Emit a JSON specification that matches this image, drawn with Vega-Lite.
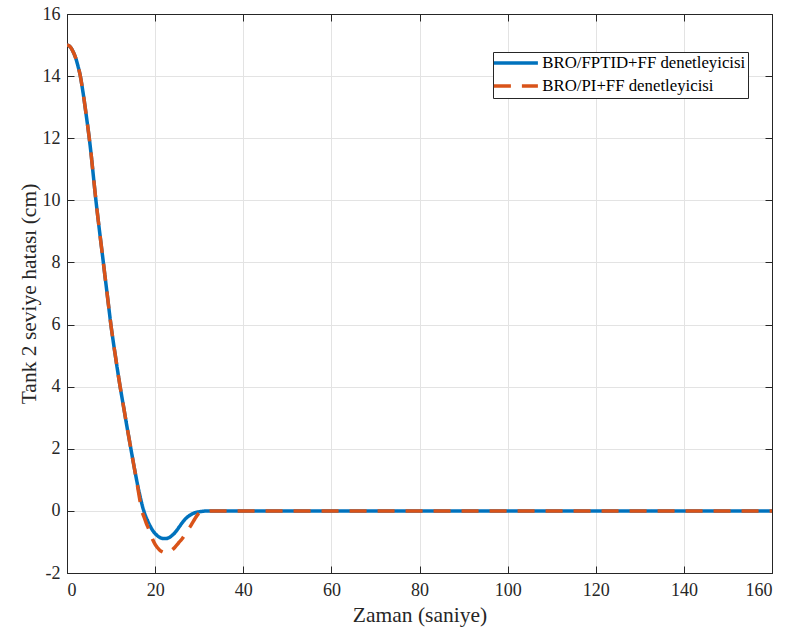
{
  "$schema": "https://vega.github.io/schema/vega-lite/v6.json",
  "width": 705,
  "height": 559,
  "autosize": "none",
  "padding": {"left": 67, "top": 14, "right": 20, "bottom": 60},
  "background": "white",
  "config": {
    "font": "Liberation Serif",
    "view": {"stroke": "#262626", "strokeWidth": 1},
    "axis": {
      "domainColor": "#262626",
      "tickColor": "#262626",
      "labelColor": "#262626",
      "titleColor": "#262626",
      "labelFont": "Liberation Serif",
      "titleFont": "Liberation Serif",
      "labelFontSize": 18,
      "labelFontWeight": "normal",
      "titleFontSize": 21.5,
      "titleFontWeight": "normal",
      "gridColor": "#e3e3e3",
      "gridWidth": 1,
      "tickSize": -7,
      "tickWidth": 1
    },
    "legend": {
      "orient": "none",
      "legendX": 426,
      "legendY": 38,
      "fillColor": "white",
      "strokeColor": "#262626",
      "strokeWidth": 1,
      "padding": 2.5,
      "labelFont": "Liberation Serif",
      "labelFontSize": 16.8,
      "labelColor": "black",
      "labelLimit": 400,
      "symbolType": "M-4,0H4",
      "symbolStrokeWidth": 3.5,
      "symbolSize": 121,
      "symbolOffset": 12,
      "labelOffset": 18,
      "rowPadding": 5,
      "cornerRadius": 0
    }
  },
  "data": {
    "values": [
      {"t": 0, "y": 15.0, "s": "BRO/FPTID+FF denetleyicisi"},
      {"t": 0.5, "y": 14.97, "s": "BRO/FPTID+FF denetleyicisi"},
      {"t": 1, "y": 14.89, "s": "BRO/FPTID+FF denetleyicisi"},
      {"t": 1.5, "y": 14.75, "s": "BRO/FPTID+FF denetleyicisi"},
      {"t": 2, "y": 14.57, "s": "BRO/FPTID+FF denetleyicisi"},
      {"t": 2.5, "y": 14.32, "s": "BRO/FPTID+FF denetleyicisi"},
      {"t": 3, "y": 14.02, "s": "BRO/FPTID+FF denetleyicisi"},
      {"t": 3.5, "y": 13.6, "s": "BRO/FPTID+FF denetleyicisi"},
      {"t": 4, "y": 13.12, "s": "BRO/FPTID+FF denetleyicisi"},
      {"t": 4.5, "y": 12.6, "s": "BRO/FPTID+FF denetleyicisi"},
      {"t": 5, "y": 12.06, "s": "BRO/FPTID+FF denetleyicisi"},
      {"t": 5.5, "y": 11.45, "s": "BRO/FPTID+FF denetleyicisi"},
      {"t": 6, "y": 10.76, "s": "BRO/FPTID+FF denetleyicisi"},
      {"t": 6.5, "y": 10.08, "s": "BRO/FPTID+FF denetleyicisi"},
      {"t": 7, "y": 9.46, "s": "BRO/FPTID+FF denetleyicisi"},
      {"t": 7.5, "y": 8.87, "s": "BRO/FPTID+FF denetleyicisi"},
      {"t": 8, "y": 8.29, "s": "BRO/FPTID+FF denetleyicisi"},
      {"t": 8.5, "y": 7.7, "s": "BRO/FPTID+FF denetleyicisi"},
      {"t": 9, "y": 7.12, "s": "BRO/FPTID+FF denetleyicisi"},
      {"t": 9.5, "y": 6.53, "s": "BRO/FPTID+FF denetleyicisi"},
      {"t": 10, "y": 5.95, "s": "BRO/FPTID+FF denetleyicisi"},
      {"t": 10.5, "y": 5.45, "s": "BRO/FPTID+FF denetleyicisi"},
      {"t": 11, "y": 4.97, "s": "BRO/FPTID+FF denetleyicisi"},
      {"t": 11.5, "y": 4.5, "s": "BRO/FPTID+FF denetleyicisi"},
      {"t": 12, "y": 4.05, "s": "BRO/FPTID+FF denetleyicisi"},
      {"t": 12.5, "y": 3.63, "s": "BRO/FPTID+FF denetleyicisi"},
      {"t": 13, "y": 3.22, "s": "BRO/FPTID+FF denetleyicisi"},
      {"t": 13.5, "y": 2.8, "s": "BRO/FPTID+FF denetleyicisi"},
      {"t": 14, "y": 2.4, "s": "BRO/FPTID+FF denetleyicisi"},
      {"t": 14.5, "y": 2.0, "s": "BRO/FPTID+FF denetleyicisi"},
      {"t": 15, "y": 1.6, "s": "BRO/FPTID+FF denetleyicisi"},
      {"t": 15.5, "y": 1.22, "s": "BRO/FPTID+FF denetleyicisi"},
      {"t": 16, "y": 0.85, "s": "BRO/FPTID+FF denetleyicisi"},
      {"t": 16.5, "y": 0.52, "s": "BRO/FPTID+FF denetleyicisi"},
      {"t": 17, "y": 0.22, "s": "BRO/FPTID+FF denetleyicisi"},
      {"t": 17.5, "y": -0.03, "s": "BRO/FPTID+FF denetleyicisi"},
      {"t": 18, "y": -0.22, "s": "BRO/FPTID+FF denetleyicisi"},
      {"t": 18.5, "y": -0.38, "s": "BRO/FPTID+FF denetleyicisi"},
      {"t": 19, "y": -0.52, "s": "BRO/FPTID+FF denetleyicisi"},
      {"t": 19.5, "y": -0.64, "s": "BRO/FPTID+FF denetleyicisi"},
      {"t": 20, "y": -0.73, "s": "BRO/FPTID+FF denetleyicisi"},
      {"t": 20.5, "y": -0.8, "s": "BRO/FPTID+FF denetleyicisi"},
      {"t": 21, "y": -0.85, "s": "BRO/FPTID+FF denetleyicisi"},
      {"t": 21.5, "y": -0.88, "s": "BRO/FPTID+FF denetleyicisi"},
      {"t": 22, "y": -0.89, "s": "BRO/FPTID+FF denetleyicisi"},
      {"t": 22.5, "y": -0.89, "s": "BRO/FPTID+FF denetleyicisi"},
      {"t": 23, "y": -0.87, "s": "BRO/FPTID+FF denetleyicisi"},
      {"t": 23.5, "y": -0.83, "s": "BRO/FPTID+FF denetleyicisi"},
      {"t": 24, "y": -0.77, "s": "BRO/FPTID+FF denetleyicisi"},
      {"t": 24.5, "y": -0.7, "s": "BRO/FPTID+FF denetleyicisi"},
      {"t": 25, "y": -0.61, "s": "BRO/FPTID+FF denetleyicisi"},
      {"t": 25.5, "y": -0.51, "s": "BRO/FPTID+FF denetleyicisi"},
      {"t": 26, "y": -0.41, "s": "BRO/FPTID+FF denetleyicisi"},
      {"t": 26.5, "y": -0.32, "s": "BRO/FPTID+FF denetleyicisi"},
      {"t": 27, "y": -0.24, "s": "BRO/FPTID+FF denetleyicisi"},
      {"t": 27.5, "y": -0.18, "s": "BRO/FPTID+FF denetleyicisi"},
      {"t": 28, "y": -0.13, "s": "BRO/FPTID+FF denetleyicisi"},
      {"t": 29, "y": -0.06, "s": "BRO/FPTID+FF denetleyicisi"},
      {"t": 30, "y": -0.03, "s": "BRO/FPTID+FF denetleyicisi"},
      {"t": 31, "y": -0.01, "s": "BRO/FPTID+FF denetleyicisi"},
      {"t": 32, "y": 0, "s": "BRO/FPTID+FF denetleyicisi"},
      {"t": 35, "y": 0, "s": "BRO/FPTID+FF denetleyicisi"},
      {"t": 40, "y": 0, "s": "BRO/FPTID+FF denetleyicisi"},
      {"t": 160, "y": 0, "s": "BRO/FPTID+FF denetleyicisi"},
      {"t": 0, "y": 15.0, "s": "BRO/PI+FF denetleyicisi"},
      {"t": 0.5, "y": 14.97, "s": "BRO/PI+FF denetleyicisi"},
      {"t": 1, "y": 14.89, "s": "BRO/PI+FF denetleyicisi"},
      {"t": 1.5, "y": 14.75, "s": "BRO/PI+FF denetleyicisi"},
      {"t": 2, "y": 14.57, "s": "BRO/PI+FF denetleyicisi"},
      {"t": 2.5, "y": 14.32, "s": "BRO/PI+FF denetleyicisi"},
      {"t": 3, "y": 14.02, "s": "BRO/PI+FF denetleyicisi"},
      {"t": 3.5, "y": 13.6, "s": "BRO/PI+FF denetleyicisi"},
      {"t": 4, "y": 13.12, "s": "BRO/PI+FF denetleyicisi"},
      {"t": 4.5, "y": 12.6, "s": "BRO/PI+FF denetleyicisi"},
      {"t": 5, "y": 12.06, "s": "BRO/PI+FF denetleyicisi"},
      {"t": 5.5, "y": 11.45, "s": "BRO/PI+FF denetleyicisi"},
      {"t": 6, "y": 10.76, "s": "BRO/PI+FF denetleyicisi"},
      {"t": 6.5, "y": 10.08, "s": "BRO/PI+FF denetleyicisi"},
      {"t": 7, "y": 9.46, "s": "BRO/PI+FF denetleyicisi"},
      {"t": 7.5, "y": 8.87, "s": "BRO/PI+FF denetleyicisi"},
      {"t": 8, "y": 8.29, "s": "BRO/PI+FF denetleyicisi"},
      {"t": 8.5, "y": 7.7, "s": "BRO/PI+FF denetleyicisi"},
      {"t": 9, "y": 7.12, "s": "BRO/PI+FF denetleyicisi"},
      {"t": 9.5, "y": 6.53, "s": "BRO/PI+FF denetleyicisi"},
      {"t": 10, "y": 5.95, "s": "BRO/PI+FF denetleyicisi"},
      {"t": 10.5, "y": 5.45, "s": "BRO/PI+FF denetleyicisi"},
      {"t": 11, "y": 4.97, "s": "BRO/PI+FF denetleyicisi"},
      {"t": 11.5, "y": 4.5, "s": "BRO/PI+FF denetleyicisi"},
      {"t": 12, "y": 4.05, "s": "BRO/PI+FF denetleyicisi"},
      {"t": 12.5, "y": 3.63, "s": "BRO/PI+FF denetleyicisi"},
      {"t": 13, "y": 3.22, "s": "BRO/PI+FF denetleyicisi"},
      {"t": 13.5, "y": 2.8, "s": "BRO/PI+FF denetleyicisi"},
      {"t": 14, "y": 2.4, "s": "BRO/PI+FF denetleyicisi"},
      {"t": 14.5, "y": 2.0, "s": "BRO/PI+FF denetleyicisi"},
      {"t": 15, "y": 1.6, "s": "BRO/PI+FF denetleyicisi"},
      {"t": 15.5, "y": 1.2, "s": "BRO/PI+FF denetleyicisi"},
      {"t": 16, "y": 0.8, "s": "BRO/PI+FF denetleyicisi"},
      {"t": 16.5, "y": 0.38, "s": "BRO/PI+FF denetleyicisi"},
      {"t": 17, "y": 0.0, "s": "BRO/PI+FF denetleyicisi"},
      {"t": 17.5, "y": -0.2, "s": "BRO/PI+FF denetleyicisi"},
      {"t": 18, "y": -0.4, "s": "BRO/PI+FF denetleyicisi"},
      {"t": 18.5, "y": -0.57, "s": "BRO/PI+FF denetleyicisi"},
      {"t": 19, "y": -0.76, "s": "BRO/PI+FF denetleyicisi"},
      {"t": 19.5, "y": -0.94, "s": "BRO/PI+FF denetleyicisi"},
      {"t": 20, "y": -1.08, "s": "BRO/PI+FF denetleyicisi"},
      {"t": 20.5, "y": -1.18, "s": "BRO/PI+FF denetleyicisi"},
      {"t": 21, "y": -1.26, "s": "BRO/PI+FF denetleyicisi"},
      {"t": 21.5, "y": -1.31, "s": "BRO/PI+FF denetleyicisi"},
      {"t": 22, "y": -1.34, "s": "BRO/PI+FF denetleyicisi"},
      {"t": 22.5, "y": -1.35, "s": "BRO/PI+FF denetleyicisi"},
      {"t": 23, "y": -1.34, "s": "BRO/PI+FF denetleyicisi"},
      {"t": 23.5, "y": -1.3, "s": "BRO/PI+FF denetleyicisi"},
      {"t": 24, "y": -1.24, "s": "BRO/PI+FF denetleyicisi"},
      {"t": 24.5, "y": -1.17, "s": "BRO/PI+FF denetleyicisi"},
      {"t": 25, "y": -1.09, "s": "BRO/PI+FF denetleyicisi"},
      {"t": 25.5, "y": -1.0, "s": "BRO/PI+FF denetleyicisi"},
      {"t": 26, "y": -0.92, "s": "BRO/PI+FF denetleyicisi"},
      {"t": 26.5, "y": -0.82, "s": "BRO/PI+FF denetleyicisi"},
      {"t": 27, "y": -0.7, "s": "BRO/PI+FF denetleyicisi"},
      {"t": 27.5, "y": -0.6, "s": "BRO/PI+FF denetleyicisi"},
      {"t": 28, "y": -0.5, "s": "BRO/PI+FF denetleyicisi"},
      {"t": 28.5, "y": -0.38, "s": "BRO/PI+FF denetleyicisi"},
      {"t": 29, "y": -0.26, "s": "BRO/PI+FF denetleyicisi"},
      {"t": 29.5, "y": -0.15, "s": "BRO/PI+FF denetleyicisi"},
      {"t": 30, "y": -0.08, "s": "BRO/PI+FF denetleyicisi"},
      {"t": 30.5, "y": -0.04, "s": "BRO/PI+FF denetleyicisi"},
      {"t": 31, "y": -0.02, "s": "BRO/PI+FF denetleyicisi"},
      {"t": 32, "y": -0.01, "s": "BRO/PI+FF denetleyicisi"},
      {"t": 33, "y": 0, "s": "BRO/PI+FF denetleyicisi"},
      {"t": 35, "y": 0, "s": "BRO/PI+FF denetleyicisi"},
      {"t": 40, "y": 0, "s": "BRO/PI+FF denetleyicisi"},
      {"t": 160, "y": 0, "s": "BRO/PI+FF denetleyicisi"}
    ]
  },
  "encoding": {
    "color": {
      "field": "s",
      "type": "nominal",
      "scale": {"domain": ["BRO/FPTID+FF denetleyicisi", "BRO/PI+FF denetleyicisi"], "range": ["#0072BD", "#D95319"]},
      "legend": {"title": null}
    },
    "strokeDash": {
      "field": "s",
      "type": "nominal",
      "scale": {"domain": ["BRO/FPTID+FF denetleyicisi", "BRO/PI+FF denetleyicisi"], "range": [[1, 0], [17, 11]]},
      "legend": {"title": null}
    }
  },
  "layer": [
    {
      "transform": [{"filter": "datum.s === 'BRO/FPTID+FF denetleyicisi'"}],
      "mark": {"type": "line", "strokeWidth": 3.5, "interpolate": "monotone", "clip": true},
      "encoding": {
        "x": {
          "field": "t", "type": "quantitative",
          "scale": {"domain": [0, 160], "nice": false, "zero": false},
          "axis": {"orient": "bottom", "values": [0, 20, 40, 60, 80, 100, 120, 140, 160], "title": "Zaman (saniye)", "grid": true, "labelPadding": 15, "titlePadding": 5}
        },
        "y": {
          "field": "y", "type": "quantitative",
          "scale": {"domain": [-2, 16], "nice": false, "zero": false},
          "axis": {"orient": "left", "values": [-2, 0, 2, 4, 6, 8, 10, 12, 14, 16], "labelExpr": "datum.value + ''", "title": "Tank 2 seviye hatası (cm)", "grid": true, "labelPadding": 14, "titlePadding": 2}
        }
      }
    },
    {
      "transform": [{"filter": "datum.s === 'BRO/PI+FF denetleyicisi'"}],
      "mark": {"type": "line", "strokeWidth": 3.5, "interpolate": "monotone", "clip": true},
      "encoding": {
        "x": {
          "field": "t", "type": "quantitative",
          "scale": {"domain": [0, 160], "nice": false, "zero": false},
          "axis": {"orient": "top", "values": [0, 20, 40, 60, 80, 100, 120, 140, 160], "title": null, "grid": false, "labels": false}
        },
        "y": {
          "field": "y", "type": "quantitative",
          "scale": {"domain": [-2, 16], "nice": false, "zero": false},
          "axis": {"orient": "right", "values": [-2, 0, 2, 4, 6, 8, 10, 12, 14, 16], "title": null, "grid": false, "labels": false}
        }
      }
    }
  ],
  "resolve": {"axis": {"x": "independent", "y": "independent"}}
}
